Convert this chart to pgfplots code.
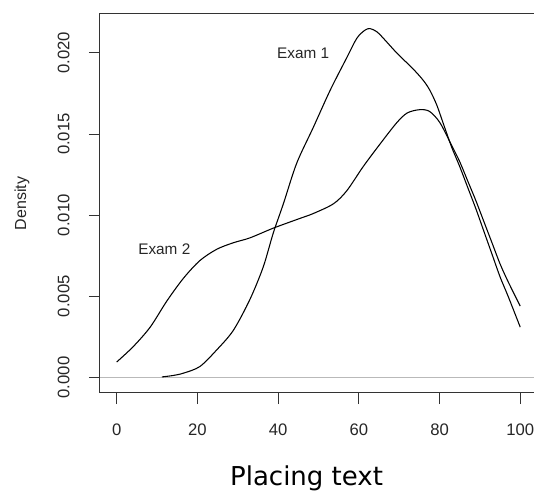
\documentclass[border=0pt]{standalone}
\usepackage{fontspec}
\setmainfont{Liberation Sans}
\newfontfamily\captionfont{DejaVu Sans}
\usepackage{pgfplots}
\pgfplotsset{compat=1.18}

\begin{document}
\begin{tikzpicture}
\begin{axis}[
  scale only axis,
  width=330.3pt, height=284.25pt,
  xmin=-4.14, xmax=105,
  ymin=-0.00096, ymax=0.0224,
  axis line style={black!80, line width=0.75pt},
  xtick={0,20,40,60,80,100},
  ytick={0,0.005,0.01,0.015,0.02},
  xtick pos=bottom, ytick pos=left,
  tick align=outside,
  major tick length=8.25pt,
  tick style={black!80, line width=0.75pt},
  scaled y ticks=false,
  /pgf/number format/assume math mode=true,
  ticklabel style={font=\fontsize{12.5}{14}\selectfont, text=black!85},
  xticklabel style={yshift=-11pt},
  yticklabel style={rotate=90, anchor=south, yshift=11pt,
    /pgf/number format/fixed,
    /pgf/number format/fixed zerofill,
    /pgf/number format/precision=3},
  clip=false,
]
% reference line at zero density
\addplot[gray!55, line width=0.75pt] coordinates {(-4.14,0) (104,0)};

% Exam 1 density
\addplot[black, line width=0.8pt, smooth, tension=0.5] coordinates {
  (11.2,0.00003) (14,0.00012) (16.5,0.00026) (20.6,0.00067)
  (24.8,0.0017) (28.9,0.0029) (33.0,0.0048) (36.3,0.0068)
  (38.8,0.0089) (41.3,0.0107) (44.6,0.0132) (48.7,0.0154)
  (52.9,0.0177) (57.0,0.0197) (59.5,0.0209) (61.5,0.0214)
  (62.8,0.0215) (64.5,0.0213) (66.1,0.0209) (69.4,0.0200)
  (73.5,0.0190) (76.0,0.0183) (77.6,0.0177) (79.3,0.0168)
  (81.0,0.0156) (83.0,0.0142) (85.0,0.0130) (87.0,0.0117)
  (89.0,0.0104) (91.0,0.0090) (93.0,0.0076) (95.0,0.0062)
  (97.0,0.0050) (100,0.0031)
};

% Exam 2 density
\addplot[black, line width=0.8pt, smooth, tension=0.5] coordinates {
  (0,0.00095) (4.1,0.0019) (8.3,0.0031) (12.4,0.0047)
  (16.5,0.0061) (20.6,0.0072) (24.8,0.0079) (28.9,0.0083)
  (33.0,0.0086) (38.8,0.0092) (45.4,0.0098) (48.7,0.0101)
  (53.7,0.0107) (57.0,0.0115) (61.1,0.0130) (65.3,0.0144)
  (69.4,0.0157) (72.0,0.0163) (75.0,0.0165) (77.5,0.0164)
  (80.1,0.0157) (83.0,0.0143) (85.0,0.0133) (87.0,0.0121)
  (89.0,0.0109) (91.0,0.0096) (93.0,0.0083) (95.0,0.0070)
  (97.0,0.0059) (100,0.0044)
};

\node[font=\fontsize{11.5}{13}\selectfont, text=black!85] at (axis cs:46.2,0.0200) {Exam 1};
\node[font=\fontsize{11.5}{13}\selectfont, text=black!85] at (axis cs:11.8,0.0079) {Exam 2};

\node[xshift=-58.5pt, rotate=90, font=\fontsize{12}{14}\selectfont, text=black!85]
  at (rel axis cs:0,0.5) {Density};

\node[anchor=base, font=\captionfont\fontsize{19.5}{22}\selectfont]
  at (axis cs:47.05,-0.00096) [yshift=-69pt] {Placing text};
\end{axis}
\pgfresetboundingbox
\useasboundingbox (-75pt,-73.5pt) rectangle (325.5pt,294.75pt);
\end{tikzpicture}
\end{document}
